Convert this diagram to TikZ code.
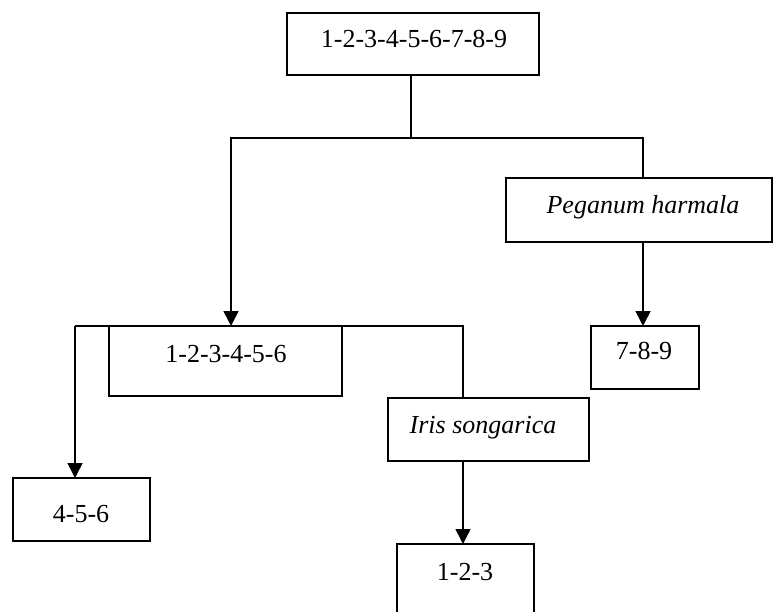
\documentclass[tikz,border=0pt]{standalone}
\usepackage{fontspec}
\setmainfont{Liberation Serif}
\usetikzlibrary{arrows.meta}
\begin{document}
\begin{tikzpicture}[x=1pt,y=-1pt,
  box/.style={draw=black, line width=1.6pt, rectangle, inner sep=0pt},
  lbl/.style={anchor=base, inner sep=0pt, font=\fontsize{26}{30}\selectfont},
  ilbl/.style={lbl, font=\fontsize{26}{30}\selectfont\itshape},
  conn/.style={draw=black, line width=1.6pt},
  arr/.style={conn, -{Triangle[length=15pt,width=15pt]}}]
\useasboundingbox (0,0) rectangle (773,612);
\clip (0,0) rectangle (773,612);
% boxes (by corners)
\node[box, minimum width=252pt, minimum height=62pt] (top) at (413,44) {};
\node[box, minimum width=233pt, minimum height=70pt] (b1) at (225.5,361) {};
\node[box, minimum width=266pt, minimum height=64pt] (peg) at (639,210) {};
\node[box, minimum width=108pt, minimum height=63pt] (b789) at (645,357.5) {};
\node[box, minimum width=137pt, minimum height=63pt] (b456) at (81.5,509.5) {};
\node[box, minimum width=201pt, minimum height=63pt] (iris) at (488.5,429.5) {};
\node[box, minimum width=137pt, minimum height=80pt] (b123) at (465.5,584) {};
% texts
\node[lbl] (topT) at (414,48) {1-2-3-4-5-6-7-8-9};
\node[lbl] (b1T) at (226,362) {1-2-3-4-5-6};
\node[ilbl] (pegT) at (643,214) {Peganum harmala};
\node[lbl] (b789T) at (644,359) {7-8-9};
\node[lbl] (b456T) at (81,522) {4-5-6};
\node[ilbl] (irisT) at (483,433) {Iris songarica};
\node[lbl] (b123T) at (465,580) {1-2-3};
% junction coordinates
\coordinate (j1) at (411,138);
\coordinate (a1) at (231,326);
\coordinate (p1) at (643,178);
\coordinate (p2) at (643,242);
\coordinate (q1) at (643,326);
\coordinate (jL) at (75,326);
\coordinate (jR) at (463,326);
\coordinate (d456) at (75,478);
\coordinate (iTop) at (463,398);
\coordinate (iBot) at (463,461);
\coordinate (t123) at (463,544);
% connectors
\draw[conn] (top.south -| j1) -- (j1);
\draw[arr] (j1) -| (a1);
\draw[conn] (j1) -| (p1);
\draw[arr] (p2) -- (q1);
\draw[conn] (jL) -- (jR) -- (iTop);
\draw[arr] (jL) -- (d456);
\draw[arr] (iBot) -- (t123);
\end{tikzpicture}
\end{document}
